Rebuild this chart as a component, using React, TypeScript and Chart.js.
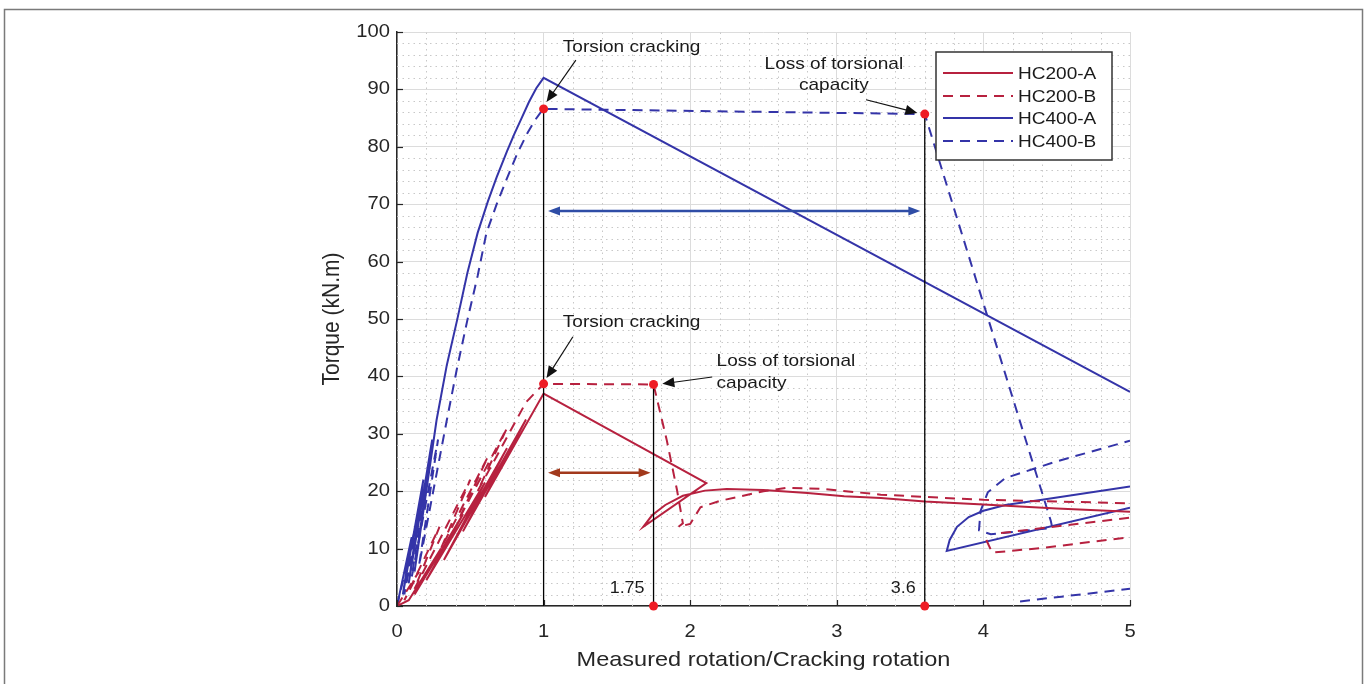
import React, { useEffect, useRef } from 'react';
import { Chart, registerables } from 'chart.js';
Chart.register(...registerables);

type P = [number, number] | null;

const X_MIN = 0, X_MAX = 5, X_STEP = 1;
const Y_MIN = 0, Y_MAX = 100, Y_STEP = 10;
const X_TITLE = 'Measured rotation/Cracking rotation';
const Y_TITLE = 'Torque (kN.m)';

const SERIES_NAMES = ['HC200-A', 'HC200-B', 'HC400-A', 'HC400-B'];

const HC200A: P[] = [
  [0, 0], [0.08, 1], [0.3, 10], [0.12, 2], [0.45, 16], [0.2, 4.5], [0.6, 21.5], [0.32, 8],
  [0.75, 27.5], [0.45, 13], [0.88, 32.5], [0.6, 19], [1, 37], [2.11, 21.4], [1.68, 13.8],
  [1.74, 15.8], [1.83, 17.6], [1.95, 19.2], [2.1, 20.1], [2.25, 20.4], [2.5, 20.2], [2.8, 19.7],
  [3.05, 19.1], [3.3, 18.8], [3.6, 18.2], [4, 17.7], [4.5, 17], [5, 16.4],
];
const HC200B: P[] = [
  [0, 0], [0.15, 6], [0.05, 1], [0.29, 13.8], [0.12, 3], [0.4, 17], [0.5, 22], [0.3, 10],
  [0.62, 26], [0.42, 15], [0.75, 31], [0.55, 20], [0.88, 35.5], [1, 38.7], [1.75, 38.6],
  [1.84, 28.9], [1.91, 20.2], [1.95, 14.4], [1.92, 13.8], [2.0, 14.3], [2.07, 17.2], [2.2, 18.3],
  [2.34, 19.1], [2.5, 20], [2.66, 20.6], [2.9, 20.4], [3.3, 19.4], [4, 18.5], [5, 17.9],
  null, [4.02, 11.5], [4.06, 9.3], [4.4, 10.1], [5, 12],
  null, [4.12, 12.7], [5, 15.4],
];
const HC400A: P[] = [
  [0, 0], [0.1, 12], [0.04, 2], [0.18, 22], [0.08, 4], [0.24, 29], [0.12, 6], [0.27, 32.4],
  [0.34, 42], [0.41, 49.8], [0.48, 58], [0.55, 65], [0.62, 70.5], [0.68, 74.7], [0.75, 79.2],
  [0.8, 82.2], [0.85, 85], [0.9, 87.8], [0.95, 90.2], [1, 92], [5, 37.3],
  null, [5, 17.1], [3.75, 9.6], [3.77, 11.5], [3.82, 13.8], [3.9, 15.5], [4.0, 16.6], [4.15, 17.6],
  [4.4, 18.5], [5, 20.8],
];
const HC400B: P[] = [
  [0, 0], [0.12, 13], [0.05, 2], [0.2, 22], [0.1, 5], [0.28, 29], [0.15, 7], [0.34, 32.4],
  [0.41, 41.5], [0.48, 49.8], [0.55, 57.5], [0.61, 65], [0.68, 70], [0.75, 74.5], [0.82, 78.8],
  [0.89, 82.4], [0.94, 84.6], [0.98, 86], [1, 86.6], [3.6, 85.7], [4.46, 14.8], [4.47, 13.6], [4.05, 12.5],
  [3.97, 13.2], [3.98, 16.5], [4.03, 19.8], [4.15, 22.3], [4.5, 25.2], [5, 28.8],
  null, [4.25, 0.8], [5, 3],
];

// key points (red dots) and guide lines
const KEY_POINTS: [number, number][] = [[1, 86.6], [3.6, 85.7], [1, 38.7], [1.75, 38.6], [1.75, 0], [3.6, 0]];
const GUIDE_LINES: P[] = [[1, 0], [1, 86.6], null, [1.75, 0], [1.75, 38.6], null, [3.6, 0], [3.6, 85.7]];
const GUIDE_LABELS: { text: string; x: number; y: number }[] = [
  { text: '1.75', x: 1.75, y: 3.1 },
  { text: '3.6', x: 3.6, y: 3.1 },
];
const NOTES: { text: string; x: number; y: number; align: CanvasTextAlign }[] = [
  { text: 'Torsion cracking', x: 1.6, y: 97.4, align: 'center' },
  { text: 'Torsion cracking', x: 1.6, y: 49.5, align: 'center' },
  { text: 'Loss of torsional', x: 2.98, y: 94.4, align: 'center' },
  { text: 'capacity', x: 2.98, y: 90.7, align: 'center' },
  { text: 'Loss of torsional', x: 2.18, y: 42.6, align: 'left' },
  { text: 'capacity', x: 2.18, y: 38.8, align: 'left' },
];
const NOTE_ARROWS: [number, number, number, number][] = [
  [1.22, 95.1, 1.02, 87.8],
  [1.2, 46.9, 1.02, 39.7],
  [3.2, 88.2, 3.55, 85.9],
  [2.15, 39.9, 1.81, 38.7],
];
const SPAN_ARROWS: { x1: number; x2: number; y: number; color: string }[] = [
  { x1: 1.03, x2: 3.57, y: 68.8, color: '#2F4DA6' },
  { x1: 1.03, x2: 1.73, y: 23.2, color: '#A2391C' },
];

const RED = '#B7213F';
const BLUE = '#3434A8';
const DOT = '#EE1C24';
const DASH = [10, 7];
const FONT = '"Liberation Sans", Arial, sans-serif';
const STRETCH = 1.12;
const TEXT = '#262626';

const toXY = (pts: P[]) => {
  let lastX = 0;
  return pts.map((p) => {
    if (p) { lastX = p[0]; return { x: p[0], y: p[1] }; }
    return { x: lastX, y: null as any };
  });
};

function drawText(ctx: CanvasRenderingContext2D, text: string, x: number, y: number, size: number,
  align: CanvasTextAlign, color: string, rot = 0, sx = STRETCH) {
  ctx.save();
  ctx.translate(x, y);
  ctx.scale(sx, 1);
  if (rot) ctx.rotate(rot);
  ctx.font = `${size}px ${FONT}`;
  ctx.fillStyle = color;
  ctx.textAlign = align;
  ctx.textBaseline = 'middle';
  ctx.fillText(text, 0, 0);
  ctx.restore();
}

function arrowHead(ctx: CanvasRenderingContext2D, x1: number, y1: number, x2: number, y2: number, len: number, w: number) {
  const a = Math.atan2(y2 - y1, x2 - x1);
  ctx.beginPath();
  ctx.moveTo(x2, y2);
  ctx.lineTo(x2 - len * Math.cos(a) + w * Math.sin(a), y2 - len * Math.sin(a) - w * Math.cos(a));
  ctx.lineTo(x2 - len * Math.cos(a) - w * Math.sin(a), y2 - len * Math.sin(a) + w * Math.cos(a));
  ctx.closePath();
  ctx.fill();
}

const overlay = {
  id: 'overlay',
  beforeDraw(chart: any) {
    const ctx = chart.ctx as CanvasRenderingContext2D;
    ctx.save();
    ctx.fillStyle = '#fff';
    ctx.fillRect(0, 0, chart.width, chart.height);
    ctx.strokeStyle = '#7a7a7a';
    ctx.lineWidth = 1.5;
    ctx.strokeRect(4.5, 9.5, chart.width - 8, chart.height + 20);
    ctx.restore();
  },
  beforeDatasetsDraw(chart: any) {
    const ctx = chart.ctx as CanvasRenderingContext2D;
    const { left, right, top, bottom } = chart.chartArea;
    const xs = chart.scales.x, ys = chart.scales.y;
    ctx.save();
    ctx.strokeStyle = '#c8c8c8';
    ctx.lineWidth = 1;
    ctx.setLineDash([1.5, 4]);
    for (let v = X_MIN; v < X_MAX; v += X_STEP) {
      for (let k = 1; k < 5; k++) {
        const px = Math.round(xs.getPixelForValue(v + (k * X_STEP) / 5)) + 0.5;
        ctx.beginPath(); ctx.moveTo(px, bottom); ctx.lineTo(px, top); ctx.stroke();
      }
    }
    for (let v = Y_MIN; v < Y_MAX; v += Y_STEP) {
      for (let k = 1; k < 5; k++) {
        const py = Math.round(ys.getPixelForValue(v + (k * Y_STEP) / 5)) + 0.5;
        ctx.beginPath(); ctx.moveTo(left, py); ctx.lineTo(right, py); ctx.stroke();
      }
    }
    ctx.restore();
  },
  afterDatasetsDraw(chart: any) {
    const ctx = chart.ctx as CanvasRenderingContext2D;
    const { left, right, top, bottom } = chart.chartArea;
    const xs = chart.scales.x, ys = chart.scales.y;
    const X = (v: number) => xs.getPixelForValue(v);
    const Y = (v: number) => ys.getPixelForValue(v);
    ctx.save();
    // inward ticks
    ctx.strokeStyle = TEXT;
    ctx.lineWidth = 1.2;
    ys.ticks.forEach((t: any) => {
      const py = Math.round(Y(t.value)) + 0.5;
      ctx.beginPath(); ctx.moveTo(left, py); ctx.lineTo(left + 6, py); ctx.stroke();
    });
    xs.ticks.forEach((t: any) => {
      const px = Math.round(X(t.value)) + 0.5;
      ctx.beginPath(); ctx.moveTo(px, bottom); ctx.lineTo(px, bottom - 6); ctx.stroke();
    });
    // tick labels and titles
    ys.ticks.forEach((t: any) => drawText(ctx, String(t.value), left - 7, Y(t.value), 18, 'right', TEXT));
    xs.ticks.forEach((t: any) => drawText(ctx, String(t.value), X(t.value), bottom + 26, 18, 'center', TEXT));
    drawText(ctx, X_TITLE, (left + right) / 2, bottom + 54, 21, 'center', TEXT);
    drawText(ctx, Y_TITLE, left - 64, (top + bottom) / 2, 21, 'center', TEXT, -Math.PI / 2);
    // span arrows
    SPAN_ARROWS.forEach((a) => {
      const x1 = X(a.x1), x2 = X(a.x2), y = Y(a.y);
      ctx.strokeStyle = a.color; ctx.fillStyle = a.color; ctx.lineWidth = 2.5;
      ctx.beginPath(); ctx.moveTo(x1 + 8, y); ctx.lineTo(x2 - 8, y); ctx.stroke();
      arrowHead(ctx, x2 - 10, y, x2, y, 12, 4.5);
      arrowHead(ctx, x1 + 10, y, x1, y, 12, 4.5);
    });
    // note arrows
    ctx.strokeStyle = '#111'; ctx.fillStyle = '#111'; ctx.lineWidth = 1.2;
    NOTE_ARROWS.forEach(([a, b, c, d]) => {
      const x1 = X(a), y1 = Y(b), x2 = X(c), y2 = Y(d);
      const ang = Math.atan2(y2 - y1, x2 - x1);
      ctx.beginPath(); ctx.moveTo(x1, y1); ctx.lineTo(x2 - 8 * Math.cos(ang), y2 - 8 * Math.sin(ang)); ctx.stroke();
      arrowHead(ctx, x1, y1, x2, y2, 12, 5);
    });
    // notes
    NOTES.forEach((n) => drawText(ctx, n.text, X(n.x), Y(n.y), 17, n.align, '#1a1a1a'));
    GUIDE_LABELS.forEach((g) => drawText(ctx, g.text, X(g.x) - 9, Y(g.y), 16, 'right', '#1a1a1a'));
    // legend
    const lw = 176, lh = 108;
    const lx = right - 18 - lw, ly = top + 20;
    ctx.fillStyle = '#fff';
    ctx.fillRect(lx, ly, lw, lh);
    ctx.strokeStyle = '#333'; ctx.lineWidth = 1.5;
    ctx.strokeRect(lx, ly, lw, lh);
    const rows = [21, 44, 66, 89];
    chart.data.datasets.slice(0, 4).forEach((ds: any, i: number) => {
      const yy = ly + rows[i];
      ctx.strokeStyle = ds.borderColor; ctx.lineWidth = 2;
      ctx.setLineDash(ds.borderDash || []);
      ctx.beginPath(); ctx.moveTo(lx + 7, yy); ctx.lineTo(lx + 77, yy); ctx.stroke();
      ctx.setLineDash([]);
      drawText(ctx, ds.label, lx + 82, yy + 1, 17, 'left', '#1a1a1a');
    });
    ctx.restore();
  },
};

const App = () => {
  const ref = useRef<HTMLCanvasElement>(null);
  useEffect(() => {
    document.body.style.margin = '0';
    const canvas = ref.current!;
    const line = (label: string, pts: P[], color: string, dashed: boolean) => ({
      label, data: toXY(pts), showLine: true, borderColor: color, backgroundColor: color,
      borderWidth: 2, borderDash: dashed ? DASH : [], pointRadius: 0, spanGaps: false, tension: 0,
    });
    const chart = new Chart(canvas, {
      type: 'scatter',
      data: {
        datasets: [
          line(SERIES_NAMES[0], HC200A, RED, false),
          line(SERIES_NAMES[1], HC200B, RED, true),
          line(SERIES_NAMES[2], HC400A, BLUE, false),
          line(SERIES_NAMES[3], HC400B, BLUE, true),
          {
            label: 'guides', data: toXY(GUIDE_LINES), showLine: true, borderColor: '#000',
            borderWidth: 1.3, pointRadius: 0, spanGaps: false, order: -1,
          } as any,
          {
            label: 'points', data: KEY_POINTS.map(([x, y]) => ({ x, y })), showLine: false,
            pointRadius: 4.5, pointBackgroundColor: DOT, pointBorderColor: DOT, borderWidth: 0,
            clip: false, order: -2,
          } as any,
        ],
      },
      options: {
        responsive: false,
        animation: false,
        devicePixelRatio: 1,
        layout: { padding: { left: 300, right: 236, top: 32, bottom: 0 } },
        plugins: { legend: { display: false }, tooltip: { enabled: false } },
        scales: {
          x: {
            type: 'linear', min: X_MIN, max: X_MAX,
            ticks: { stepSize: X_STEP, display: false },
            grid: { color: '#dcdcdc', drawTicks: false },
            border: { color: TEXT, width: 1.5 },
            afterFit: (s: any) => { s.height = 78; },
          },
          y: {
            type: 'linear', min: Y_MIN, max: Y_MAX,
            ticks: { stepSize: Y_STEP, display: false },
            grid: { color: '#dcdcdc', drawTicks: false },
            border: { color: TEXT, width: 1.5 },
            afterFit: (s: any) => { s.width = 97; },
          },
        },
      },
      plugins: [overlay],
    } as any);
    return () => chart.destroy();
  }, []);
  return (
    <div style={{ width: 1366, height: 684, position: 'relative', background: '#fff' }}>
      <canvas ref={ref} width={1366} height={684} style={{ display: 'block' }} />
    </div>
  );
};

export default App;
